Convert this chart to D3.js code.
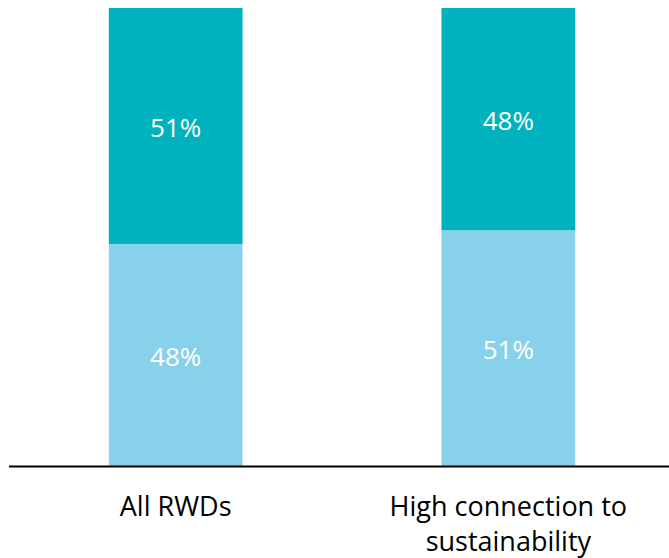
<!DOCTYPE html>
<html>
<head>
<meta charset="utf-8">
<script src="https://cdn.jsdelivr.net/npm/d3@7"></script>
<style>
	body { margin: 0; background: #fff; }
	text { font-family: "Open Sans", sans-serif; }
</style>
</head>
<body>
<div id="chart"></div>
<script>
var categories = [["All RWDs"], ["High connection to", "sustainability"]];
var lowerValues = [48, 51];
var upperValues = [51, 48];
var seriesColors = ["#87d1eb", "#00b2bd"];

var width = 669, height = 558;
var svg = d3.select("#chart").append("svg")
	.attr("width", width)
	.attr("height", height);

var x = d3.scaleBand()
	.domain(d3.range(categories.length))
	.range([9, 675])
	.paddingInner(0.598)
	.paddingOuter(0.3);

var y = d3.scaleLinear()
	.domain([0, 99])
	.range([466, 8]);

var stacked = categories.map(function(c, i) {
	return [
		{ y0: 0, y1: lowerValues[i], v: lowerValues[i], color: seriesColors[0] },
		{ y0: lowerValues[i], y1: lowerValues[i] + upperValues[i], v: upperValues[i], color: seriesColors[1] }
	];
});

var groups = svg.selectAll("g.bar")
	.data(stacked)
	.enter()
	.append("g")
	.attr("class", "bar")
	.attr("transform", function(d, i) {
		return "translate(" + x(i) + ",0)";
	});

groups.selectAll("rect")
	.data(function(d) { return d; })
	.enter()
	.append("rect")
	.attr("x", 0)
	.attr("width", x.bandwidth())
	.attr("y", function(d) { return y(d.y1); })
	.attr("height", function(d) { return y(d.y0) - y(d.y1); })
	.attr("fill", function(d) { return d.color; });

groups.selectAll("text")
	.data(function(d) { return d; })
	.enter()
	.append("text")
	.attr("x", x.bandwidth() / 2)
	.attr("y", function(d) { return (y(d.y0) + y(d.y1)) / 2 + 2; })
	.attr("dy", "0.35em")
	.attr("text-anchor", "middle")
	.attr("fill", "#fff")
	.style("font-size", "26px")
	.text(function(d) { return d.v + "%"; });

// baseline
svg.append("line")
	.attr("x1", 9)
	.attr("x2", width)
	.attr("y1", y(0) + 0.5)
	.attr("y2", y(0) + 0.5)
	.attr("stroke", "#000")
	.attr("stroke-width", 2);

var labels = svg.selectAll("text.cat")
	.data(categories)
	.enter()
	.append("text")
	.attr("class", "cat")
	.attr("text-anchor", "middle")
	.attr("fill", "#000")
	.style("font-size", "27px")
	.attr("transform", function(d, i) {
		return "translate(" + (x(i) + x.bandwidth() / 2) + ",516)";
	});

labels.selectAll("tspan")
	.data(function(d) { return d; })
	.enter()
	.append("tspan")
	.attr("x", 0)
	.attr("y", function(d, i) { return i * 35; })
	.text(function(d) { return d; });
</script>
</body>
</html>
